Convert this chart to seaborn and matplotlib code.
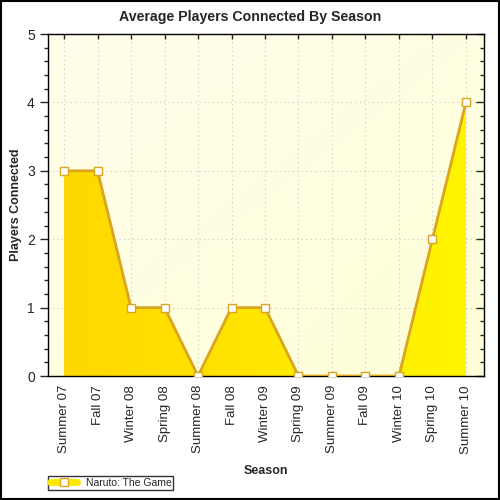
import matplotlib
matplotlib.use("Agg")
import matplotlib.pyplot as plt
import numpy as np
import pandas as pd
import seaborn as sns
from matplotlib.colors import LinearSegmentedColormap
from matplotlib.patches import Rectangle
from matplotlib.ticker import MultipleLocator

seasons = ["Summer 07", "Fall 07", "Winter 08", "Spring 08", "Summer 08", "Fall 08",
           "Winter 09", "Spring 09", "Summer 09", "Fall 09", "Winter 10", "Spring 10",
           "Summer 10"]
players = [3, 3, 1, 1, 0, 1, 1, 0, 0, 0, 0, 2, 4]
series_name = "Naruto: The Game"

df = pd.DataFrame({"Season": seasons, "Players": players, "x": range(len(seasons))})

sns.set_style("white")
plt.rcParams['font.family'] = ['Liberation Sans', 'DejaVu Sans']

fig = plt.figure(figsize=(5, 5), dpi=100)
ax = fig.add_axes([0.096, 0.248, 0.872, 0.684])

xmin, xmax = -0.48, 12.54
ax.set_xlim(xmin, xmax)
ax.set_ylim(0, 5)

# background gradient
bg = LinearSegmentedColormap.from_list("bg", ["#FFFDEA", "#FFFFD8"])
gy, gx = np.mgrid[0:1:100j, 0:1:100j]
ax.imshow((gx + gy) / 2, extent=[xmin, xmax, 0, 5], aspect="auto", cmap=bg,
          origin="upper", zorder=0)

# grid
ax.set_xticks(df["x"])
ax.yaxis.set_major_locator(MultipleLocator(1))
ax.yaxis.set_minor_locator(MultipleLocator(0.2))
ax.grid(True, which="major", color="#C8C8C8", linestyle=(0, (1, 3)), linewidth=0.8, zorder=1)

# area with gradient fill
poly = ax.fill_between(df["x"], 0, df["Players"], color="none", zorder=2)
fill_cmap = LinearSegmentedColormap.from_list("fill", ["#FFD700", "#FFF500"])
grad = np.linspace(0, 1, 256).reshape(1, -1)
im = ax.imshow(grad, extent=[0, len(seasons) - 1, 0, 5], aspect="auto", cmap=fill_cmap,
               origin="lower", zorder=2)
im.set_clip_path(poly.get_paths()[0], transform=ax.transData)

sns.lineplot(data=df, x="x", y="Players", ax=ax, color="#DAA520", linewidth=2,
             marker="s", markersize=6, markerfacecolor="white", markeredgecolor="#DAA520",
             markeredgewidth=1, zorder=3, label=series_name)

ax.set_xticklabels(seasons, rotation=90, fontsize=9.5)
ax.tick_params(axis="y", labelsize=10)
ax.tick_params(axis="x", which="major", direction="inout", length=7, width=1, pad=3,
               top=True)
ax.tick_params(axis="y", which="major", direction="out", length=6, width=1, left=True, right=True)
ax.tick_params(axis="y", which="minor", direction="out", length=3, width=1, left=True, right=True)
for t in ax.yaxis.get_ticklines(minor=False)[1::2]:
    t.set_marker(0)
for t in ax.yaxis.get_ticklines(minor=True)[1::2]:
    t.set_marker(0)
for t in ax.xaxis.get_ticklines(minor=False)[1::2]:
    t.set_marker(3)
    t.set_markersize(3.5)
for sp in ax.spines.values():
    sp.set_color("black")
    sp.set_linewidth(1)

ax.set_xlabel("Season", fontsize=9, fontweight="bold", labelpad=8)
ax.set_ylabel("")
fig.text(0.032, 0.59, "Players Connected", rotation=90, ha="center", va="center",
         fontsize=9, fontweight="bold")
fig.text(0.5, 0.966, "Average Players Connected By Season", ha="center", va="center",
         fontsize=10.2, fontweight="bold")

leg = ax.legend(loc="lower left", bbox_to_anchor=(0.096, 0.02), bbox_transform=fig.transFigure,
                frameon=True, fontsize=7.5, fancybox=False, edgecolor="black",
                borderpad=0.2, handlelength=2.6, handletextpad=0.8, borderaxespad=0)
leg.get_frame().set_linewidth(1)
for h in leg.legend_handles:
    h.set_linewidth(5)
    h.set_color("#FFE800")
    h.set_markeredgecolor("#DAA520")
    h.set_markerfacecolor("white")

fig.patches.append(Rectangle((0.002, 0.002), 0.996, 0.996, transform=fig.transFigure,
                             fill=False, edgecolor="black", linewidth=1.5))

fig.savefig("out.png", dpi=100)
